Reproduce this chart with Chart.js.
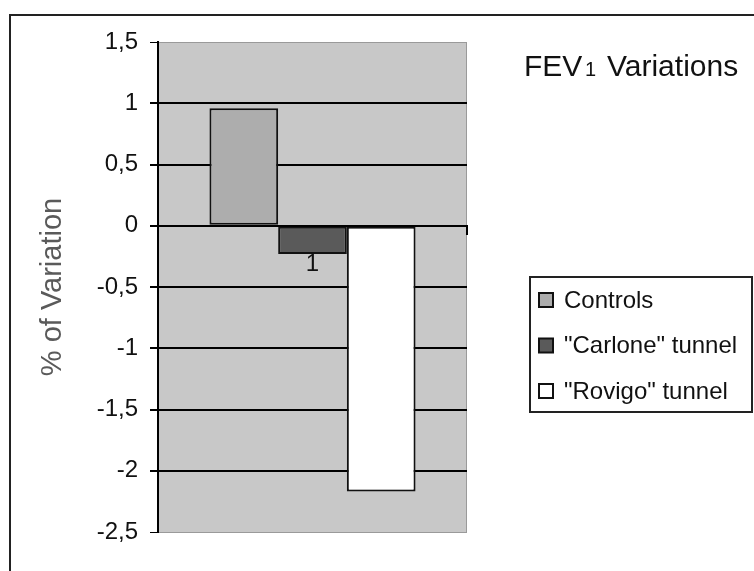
<!DOCTYPE html>
<html>
<head>
<meta charset="utf-8">
<script src="https://cdn.jsdelivr.net/npm/chart.js@4/dist/chart.umd.min.js"></script>
<style>
  body { margin: 0; background: #fff; }
  #wrap { width: 754px; height: 571px; }
</style>
</head>
<body>
<div id="wrap"><canvas id="myChart" width="754" height="571"></canvas></div>
<script>
const categories = ['1'];
const seriesNames = ['Controls', '"Carlone" tunnel', '"Rovigo" tunnel'];
const controls = [0.96];
const carlone = [-0.23];
const rovigo = [-2.17];
const yTicks = [1.5, 1, 0.5, 0, -0.5, -1, -1.5, -2, -2.5];
const seriesColors = ['#adadad', '#5a5a5a', '#ffffff'];

const FONT = '"Liberation Sans", Arial, sans-serif';

function to_comma(v) {
    return String(v).replace('.', ',');
}

// plot background, outer frame, title and boxed legend
const decor = {
    id: 'decor',
    beforeDraw(chart) {
        const c = chart.ctx, a = chart.chartArea;
        c.save();
        c.fillStyle = '#fff';
        c.fillRect(0, 0, chart.width, chart.height);
        c.fillStyle = '#c8c8c8';
        c.fillRect(a.left, a.top, a.right - a.left, a.bottom - a.top);
        c.strokeStyle = '#9a9a9a';
        c.lineWidth = 1;
        c.strokeRect(a.left, a.top + 0.5, a.right - a.left - 0.5, a.bottom - a.top);
        c.restore();
    },
    afterDraw(chart) {
        const c = chart.ctx;
        c.save();
        c.strokeStyle = '#222';
        c.lineWidth = 2;
        c.strokeRect(10, 15, 780, 600);

        // title FEV1 Variations
        c.fillStyle = '#111';
        c.textBaseline = 'alphabetic';
        c.font = '30px ' + FONT;
        c.fillText('FEV', 524, 76);
        c.font = '20px ' + FONT;
        c.fillText('1', 585, 76);
        c.font = '30px ' + FONT;
        c.fillText('Variations', 607, 76);

        // legend
        c.fillStyle = '#fff';
        c.fillRect(530, 277, 222, 135);
        c.strokeStyle = '#222';
        c.strokeRect(530, 277, 222, 135);
        chart.data.datasets.forEach((ds, i) => {
            const y = 300 + i * 45.5;
            c.fillStyle = ds.backgroundColor;
            c.fillRect(539, y - 7, 14, 14);
            c.strokeStyle = '#111';
            c.lineWidth = 2;
            c.strokeRect(539, y - 7, 14, 14);
            c.fillStyle = '#111';
            c.font = '24px ' + FONT;
            c.textBaseline = 'middle';
            c.fillText(ds.label, 564, y + 1);
        });
        c.restore();
    }
};

const ctx = document.getElementById('myChart');
var chart = new Chart(ctx, {
    type: 'bar',
    data: {
        labels: categories,
        datasets: [controls, carlone, rovigo].map((vals, i) => ({
            label: seriesNames[i],
            data: vals,
            backgroundColor: seriesColors[i],
            borderColor: '#111',
            borderWidth: 2,
            borderSkipped: false,
            categoryPercentage: 0.667,
            barPercentage: 1.0
        }))
    },
    options: {
        responsive: false,
        animation: false,
        events: [],
        layout: {
            padding: { left: 0, top: 42, right: 287, bottom: 39 }
        },
        plugins: {
            legend: { display: false },
            title: { display: false },
            tooltip: { enabled: false }
        },
        scales: {
            x: {
                type: 'category',
                position: { y: 0 },
                offset: true,
                z: 1,
                border: { display: true, color: '#000', width: 2 },
                grid: {
                    offset: true,
                    drawOnChartArea: false,
                    drawTicks: true,
                    tickLength: 8,
                    color: '#000',
                    lineWidth: 2
                },
                ticks: {
                    color: '#111',
                    padding: 16,
                    font: { family: FONT, size: 24 }
                }
            },
            y: {
                min: -2.5,
                max: 1.5,
                afterBuildTicks: (scale) => {
                    scale.ticks = yTicks.map((v) => ({ value: v }));
                },
                afterFit: (scale) => {
                    scale.width = 158;
                },
                border: { display: true, color: '#000', width: 2 },
                grid: {
                    color: (c) => (c.tick && (c.tick.value === 1.5 || c.tick.value === -2.5)) ? '#9a9a9a' : '#000',
                    tickColor: '#000',
                    lineWidth: (c) => (c.tick && (c.tick.value === 1.5 || c.tick.value === -2.5)) ? 1 : 2,
                    tickLength: 8
                },
                ticks: {
                    color: '#111',
                    padding: 12,
                    font: { family: FONT, size: 24 },
                    callback: (v) => to_comma(v)
                },
                title: {
                    display: true,
                    text: '% of Variation',
                    color: '#5a5a5a',
                    padding: { top: 36, bottom: 0 },
                    font: { family: FONT, size: 29 }
                }
            }
        }
    },
    plugins: [decor]
});
</script>
</body>
</html>
